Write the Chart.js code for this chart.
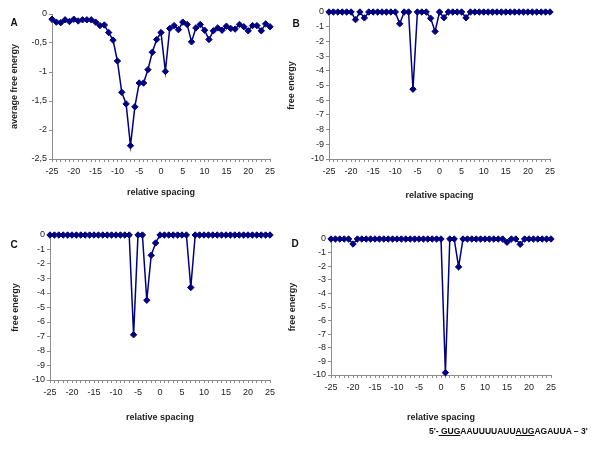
<!DOCTYPE html>
<html>
<head>
<meta charset="utf-8">
<script src="https://cdn.jsdelivr.net/npm/chart.js@4"></script>
<style>
  html, body { margin: 0; padding: 0; background: #fff; }
  body { width: 600px; height: 451px; position: relative; overflow: hidden; font-family: "Liberation Sans", Arial, sans-serif; }
  .panel { position: absolute; width: 300px; height: 210px; }
  .letter { position: absolute; font-weight: bold; font-size: 10px; color: #111; transform: translate(-50%, -50%); }
  .seq { position: absolute; left: 429px; top: 426px; font-size: 8.5px; font-weight: bold; color: #111; white-space: nowrap; }
</style>
</head>
<body>
<div class="panel" style="left:0;top:0"><canvas id="chartA"></canvas></div>
<div class="panel" style="left:280px;top:0"><canvas id="chartB"></canvas></div>
<div class="panel" style="left:0;top:220px"><canvas id="chartC"></canvas></div>
<div class="panel" style="left:280px;top:220px"><canvas id="chartD"></canvas></div>
<div class="letter" style="left:14px;top:22px">A</div>
<div class="letter" style="left:296px;top:23px">B</div>
<div class="letter" style="left:14px;top:244px">C</div>
<div class="letter" style="left:295px;top:243px">D</div>
<div class="seq">5'-<u> GUG</u>AAUUUUAUU<u>AUG</u>AGAUUA – 3'</div>
<script>
// relative spacing -25 .. 25
const spacing = [-25,-24,-23,-22,-21,-20,-19,-18,-17,-16,-15,-14,-13,-12,-11,-10,-9,-8,-7,-6,-5,-4,-3,-2,-1,
  0,1,2,3,4,5,6,7,8,9,10,11,12,13,14,15,16,17,18,19,20,21,22,23,24,25];
const xLabelled = [-25,-20,-15,-10,-5,0,5,10,15,20,25];

// A: average free energy
const energyA = [-0.09,-0.14,-0.15,-0.10,-0.13,-0.09,-0.12,-0.10,-0.10,-0.10,-0.14,-0.20,-0.19,-0.32,-0.45,
  -0.81,-1.35,-1.55,-2.27,-1.60,-1.19,-1.19,-0.96,-0.66,-0.44,
  -0.32,-0.99,-0.25,-0.20,-0.27,-0.14,-0.18,-0.48,-0.24,-0.18,-0.28,-0.44,-0.29,-0.24,-0.28,-0.21,-0.25,
  -0.26,-0.18,-0.22,-0.29,-0.20,-0.20,-0.29,-0.17,-0.22];
// B, C, D: free energy
const energyB = [0,0,0,0,0,0,-0.52,0,-0.4,0,0,0,0,0,0,0,-0.8,0,0,-5.25,0,0,0,-0.43,-1.32,
  0,-0.39,0,0,0,0,-0.39,0,0,0,0,0,0,0,0,0,0,0,0,0,0,0,0,0,0,0];
const energyC = [0,0,0,0,0,0,0,0,0,0,0,0,0,0,0,0,0,0,0,-6.88,0,0,-4.5,-1.4,-0.55,
  0,0,0,0,0,0,0,-3.62,0,0,0,0,0,0,0,0,0,0,0,0,0,0,0,0,0,0];
const energyD = [0,0,0,0,0,-0.37,0,0,0,0,0,0,0,0,0,0,0,0,0,0,0,0,0,0,0,
  0,-9.83,0,0,-2.05,0,0,0,0,0,0,0,0,0,0,-0.24,0,0,-0.39,0,0,0,0,0,0,0];

const axisGrey = "#8c8c8c";
const textCol = "#222";
const navy = "#000080";

function makePanel(id, values, yMin, yStep, yTitle, lay){
  const ctx = document.getElementById(id).getContext("2d");
  return new Chart(ctx, {
    type: "line",
    data: {
      datasets: [{
        data: spacing.map((x, i) => ({ x, y: values[i] })),
        borderColor: navy,
        borderWidth: 1.5,
        backgroundColor: navy,
        pointStyle: "rectRot",
        pointRadius: 3.2,
        pointBorderWidth: 1,
        pointBorderColor: navy,
        pointBackgroundColor: navy,
        tension: 0,
        clip: false
      }]
    },
    options: {
      responsive: true,
      maintainAspectRatio: false,
      animation: false,
      layout: { padding: { top: lay.top, right: lay.right, left: 0, bottom: 0 } },
      plugins: { legend: { display: false }, tooltip: { enabled: false } },
      scales: {
        x: {
          type: "linear",
          min: -25, max: 25,
          afterFit: s => { s.height = lay.xh; },
          border: { display: true, color: axisGrey, width: 1 },
          grid: { drawOnChartArea: false, drawTicks: true, tickLength: 3, color: axisGrey },
          ticks: {
            stepSize: 1, autoSkip: false, maxRotation: 0, padding: 4,
            color: textCol, font: { family: "Liberation Sans", size: 9 },
            callback: v => xLabelled.includes(v) ? String(v) : ""
          },
          title: {
            display: true, text: "relative spacing", color: textCol,
            font: { family: "Liberation Sans", size: 9, weight: "bold" },
            padding: { top: 0, bottom: lay.xtPad }
          }
        },
        y: {
          min: yMin, max: 0,
          afterFit: s => { s.width = lay.yw; },
          border: { display: true, color: axisGrey, width: 1 },
          grid: { drawOnChartArea: false, drawTicks: true, tickLength: 3, color: axisGrey },
          ticks: {
            stepSize: yStep, autoSkip: false, padding: 2,
            color: textCol, font: { family: "Liberation Sans", size: 9 },
            callback: v => String(v).replace(".", ",")
          },
          title: {
            display: true, text: yTitle, color: textCol,
            font: { family: "Liberation Sans", size: 9, weight: "bold" },
            padding: { top: lay.ytPad, bottom: 0 }
          }
        }
      }
    }
  });
}

makePanel("chartA", energyA, -2.5, 0.5, "average free energy", { top: 14, right: 30, yw: 52, xh: 51, xtPad: 12, ytPad: 9 });
makePanel("chartB", energyB, -10, 1, "free energy", { top: 12, right: 30, yw: 49, xh: 51, xtPad: 9, ytPad: 6 });
makePanel("chartC", energyC, -10, 1, "free energy", { top: 15, right: 30, yw: 50, xh: 50, xtPad: 7, ytPad: 10 });
makePanel("chartD", energyD, -10, 1, "free energy", { top: 19, right: 29, yw: 51, xh: 55, xtPad: 7, ytPad: 7 });
</script>
</body>
</html>
